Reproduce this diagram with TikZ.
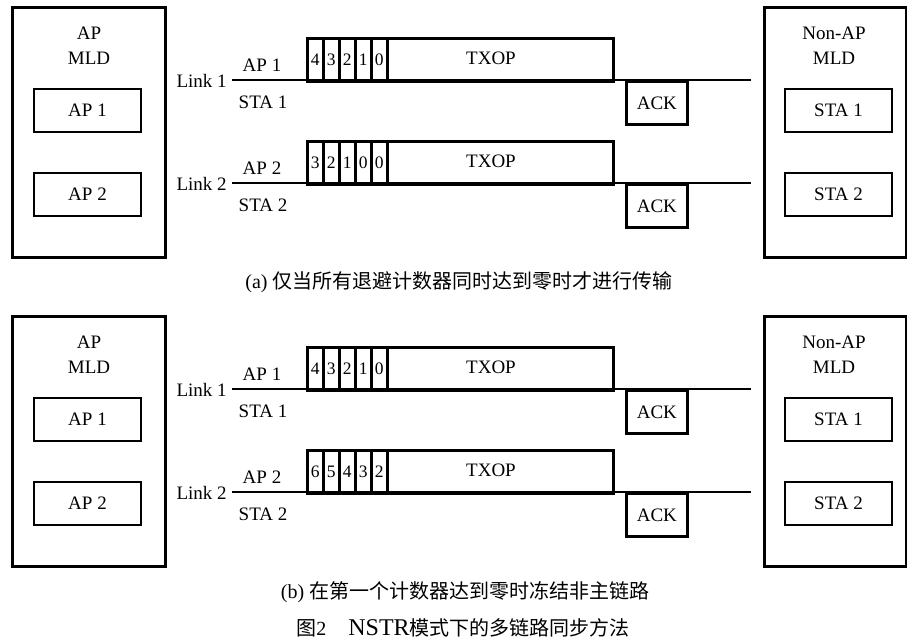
\documentclass[tikz,border=0pt]{standalone}
\usepackage{fontspec}
\setmainfont{Liberation Serif}
\newfontfamily\cjk{Noto Sans CJK SC}
\newcommand\mypanel[4]{% #1 prefix, #2 y offset, #3 digits link1, #4 digits link2
 \begin{scope}[yshift=-#2pt]
  % left device
  \node[box, minimum width=153pt, minimum height=250pt] (#1apmld) at (11,6) {};
  \node[lbl, align=center] (#1aptitle) at (89,45.5) {AP\\MLD};
  \node[sub] (#1ap1) at (87.5,110.5) {AP 1};
  \node[sub] (#1ap2) at (87.5,194.5) {AP 2};
  % right device
  \node[box, minimum width=142pt, minimum height=250pt] (#1stamld) at (763,6) {};
  \node[lbl, align=center] (#1statitle) at (834,45.5) {Non-AP\\MLD};
  \node[sub] (#1sta1) at (838.5,110.5) {STA 1};
  \node[sub] (#1sta2) at (838.5,194.5) {STA 2};
  % links
  \mylink{#1a}{80}{1}{#3}
  \mylink{#1b}{183}{2}{#4}
 \end{scope}}
\newcommand\mylink[4]{% #1 prefix, #2 line y, #3 number, #4 digits
  \node[lbl, anchor=east] (#1link) at (228,#2+1) {Link #3};
  \node[lbl] (#1ap) at (262,#2-15) {AP #3};
  \node[lbl] (#1sta) at (263,#2+22) {STA #3};
  \node[box, minimum width=306pt, minimum height=43pt] (#1txop) at (306,#2-43) {};
  \node[lbl] (#1txoplbl) at (491,#2-22) {TXOP};
  \foreach \d [count=\i from 0] in {#4} {
    \node[slot] (#1s\i) at (306+16*\i,#2-43) {\d};
  }
  \node[box, minimum width=61pt, minimum height=43pt, font=\fontsize{19}{20}\selectfont] (#1ack) at (625,#2) {ACK};
  \coordinate (#1ls) at (232,#2);
  \coordinate (#1le) at (751,#2);
  \draw (#1ls) -- (#1le);
}
\begin{document}
\begin{tikzpicture}[x=1pt,y=-1pt, line width=2.7pt,
  box/.style={draw, rectangle, inner sep=0pt, anchor=north west},
  lbl/.style={font=\fontsize{19}{25}\selectfont, inner sep=0pt},
  sub/.style={draw, rectangle, inner sep=0pt, minimum width=107pt, minimum height=43pt, font=\fontsize{19}{20}\selectfont},
  slot/.style={draw, rectangle, inner sep=0pt, anchor=north west, minimum width=16pt, minimum height=43pt, font=\fontsize{17.5}{18}\selectfont},
  captext/.style={font=\fontsize{20}{22}\selectfont, inner sep=0pt}]
\useasboundingbox (0,0) rectangle (907,643);
\mypanel{t}{0}{4,3,2,1,0}{3,2,1,0,0}
\mypanel{u}{309}{4,3,2,1,0}{6,5,4,3,2}
\node[captext] (capa) at (459,282) {(a) {\cjk 仅当所有退避计数器同时达到零时才进行传输}};
\node[captext] (capb) at (465,592) {(b) {\cjk 在第一个计数器达到零时冻结非主链路}};
\node[captext] (capfig) at (463,628) {{\cjk 图}2\hspace{1.1em}{\fontsize{24}{22}\selectfont NSTR}{\cjk 模式下的多链路同步方法}};
\end{tikzpicture}
\end{document}
